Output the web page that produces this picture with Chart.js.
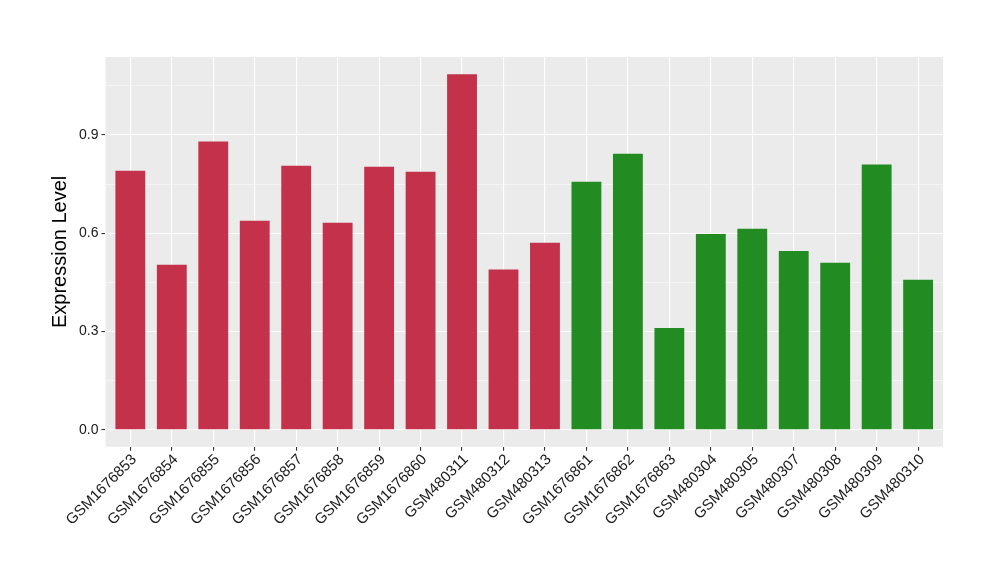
<!DOCTYPE html>
<html lang="en">
<head>
    <meta charset="UTF-8">
    <title>Expression Level</title>
    <script src="https://cdn.jsdelivr.net/npm/chart.js"></script>
    <style>
        body { margin: 0; background: #fff; }
        #wrap { width: 1000px; height: 580px; }
    </style>
</head>
<body>
    <div id="wrap"><canvas id="chart" width="1000" height="580"></canvas></div>
    <script>
        // muestras y valores
        const samples = ['GSM1676853', 'GSM1676854', 'GSM1676855', 'GSM1676856', 'GSM1676857',
            'GSM1676858', 'GSM1676859', 'GSM1676860', 'GSM480311', 'GSM480312', 'GSM480313',
            'GSM1676861', 'GSM1676862', 'GSM1676863', 'GSM480304', 'GSM480305', 'GSM480307',
            'GSM480308', 'GSM480309', 'GSM480310'];
        const expression = [0.791, 0.504, 0.880, 0.638, 0.806, 0.632, 0.803, 0.788, 1.085, 0.489,
            0.571, 0.757, 0.843, 0.311, 0.598, 0.614, 0.546, 0.510, 0.810, 0.458];
        const groups = ['a', 'a', 'a', 'a', 'a', 'a', 'a', 'a', 'a', 'a', 'a',
            'b', 'b', 'b', 'b', 'b', 'b', 'b', 'b', 'b'];
        const groupColors = { a: '#C3314A', b: '#228B22' };
        const yTicks = [0, 0.15, 0.3, 0.45, 0.6, 0.75, 0.9, 1.05];

        // fondo gris del panel, estilo ggplot
        const panelBg = {
            id: 'panelBg',
            beforeDraw(chart) {
                const a = chart.chartArea;
                const ctx = chart.ctx;
                ctx.save();
                ctx.fillStyle = '#EBEBEB';
                ctx.fillRect(a.left, a.top, a.right - a.left, a.bottom - a.top);
                ctx.restore();
            }
        };

        const tickVal = c => (c.tick ? c.tick.value : NaN);
        const isMajor = v => Math.abs(Math.round(v / 0.3) * 0.3 - v) < 1e-6;
        const isInt = v => Math.abs(Math.round(v) - v) < 1e-6;
        const isYTick = v => yTicks.some(t => Math.abs(t - v) < 1e-6);

        new Chart(document.getElementById('chart'), {
            type: 'bar',
            data: {
                datasets: [{
                    data: expression.map((v, i) => ({ x: i, y: v })),
                    backgroundColor: groups.map(g => groupColors[g]),
                    barPercentage: 0.72,
                    categoryPercentage: 1
                }]
            },
            options: {
                responsive: false,
                animation: false,
                layout: { padding: { top: 57, right: 57, left: 44, bottom: 51 } },
                plugins: { legend: { display: false }, tooltip: { enabled: false } },
                scales: {
                    x: {
                        type: 'linear',
                        min: -0.6,
                        max: 19.6,
                        offset: false,
                        afterBuildTicks: axis => { axis.ticks = samples.map((s, i) => ({ value: i })); },
                        ticks: {
                            autoSkip: false,
                            minRotation: 45,
                            maxRotation: 45,
                            color: '#1a1a1a',
                            font: { family: 'Liberation Sans', size: 15 },
                            padding: 0,
                            labelOffset: 4,
                            callback: v => isInt(v) ? samples[Math.round(v)] : ''
                        },
                        grid: {
                            offset: false,
                            color: c => isInt(tickVal(c)) ? '#FFFFFF' : 'rgba(0,0,0,0)',
                            lineWidth: 1.1,
                            tickColor: c => isInt(tickVal(c)) ? '#333333' : 'rgba(0,0,0,0)',
                            tickLength: 4
                        },
                        border: { display: false }
                    },
                    y: {
                        min: -0.052,
                        max: 1.138,
                        afterBuildTicks: axis => { axis.ticks = yTicks.map(v => ({ value: v })); },
                        ticks: {
                            color: '#1a1a1a',
                            font: { family: 'Liberation Sans', size: 14 },
                            padding: 3,
                            callback: v => isMajor(v) ? v.toFixed(1) : ''
                        },
                        grid: {
                            color: c => isYTick(tickVal(c)) ? '#FFFFFF' : 'rgba(0,0,0,0)',
                            lineWidth: c => isMajor(tickVal(c)) ? 1.1 : 0.5,
                            tickColor: c => isYTick(tickVal(c)) && isMajor(tickVal(c)) ? '#333333' : 'rgba(0,0,0,0)',
                            tickLength: 4
                        },
                        border: { display: false },
                        title: {
                            display: true,
                            text: 'Expression Level',
                            color: '#000000',
                            font: { family: 'Liberation Sans', size: 20 },
                            padding: 4
                        }
                    }
                }
            },
            plugins: [panelBg]
        });
    </script>
</body>
</html>
